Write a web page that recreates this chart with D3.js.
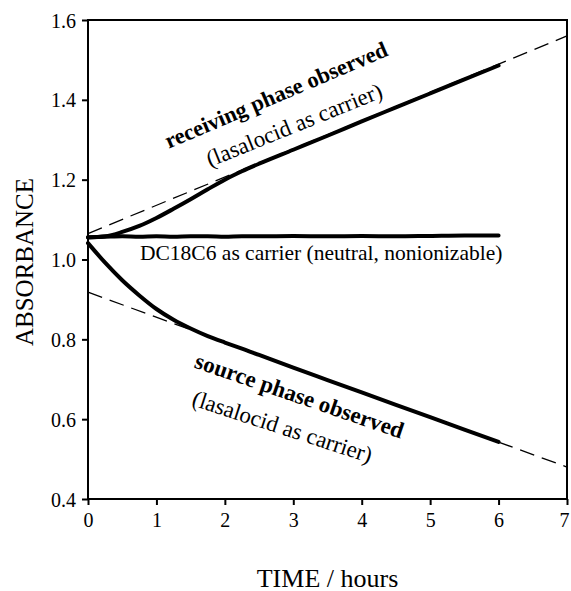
<!DOCTYPE html>
<html>
<head>
<meta charset="utf-8">
<script src="https://cdn.jsdelivr.net/npm/d3@7"></script>
<style>
  body { margin: 0; background: #fff; }
  text { font-family: 'Liberation Serif', 'Times New Roman', Times, serif; fill: #000; }
</style>
</head>
<body>
<svg width="571" height="591"></svg>
<script>
// observed curves (hours vs absorbance)
const hours = [0, 0.25, 0.5, 0.75, 1, 1.25, 1.5, 1.75, 2, 2.25, 2.5, 3, 3.5, 4, 4.5, 5, 5.5, 6];
const receivingObs = [1.055, 1.058, 1.069, 1.084, 1.104, 1.127, 1.151, 1.176, 1.2, 1.221, 1.24, 1.275, 1.31, 1.346, 1.381, 1.416, 1.451, 1.486];
const sourceObs = [1.041, 0.992, 0.948, 0.91, 0.876, 0.849, 0.827, 0.808, 0.792, 0.777, 0.761, 0.729, 0.698, 0.667, 0.636, 0.605, 0.574, 0.543];
const dc18c6Obs = [1.056, 1.057, 1.058, 1.057, 1.058, 1.057, 1.058, 1.058, 1.057, 1.058, 1.058, 1.059, 1.058, 1.059, 1.058, 1.059, 1.06, 1.06];

// dashed linear fits
const fitHours = [0, 7];
const receivingFit = [1.065, 1.56];
const sourceFit = [0.918, 0.48];

const xTicks = [0, 1, 2, 3, 4, 5, 6, 7];
const yTicks = [0.4, 0.6, 0.8, 1.0, 1.2, 1.4, 1.6];

const svg = d3.select('svg');
const width = +svg.attr('width');
const height = +svg.attr('height');
const margin = { left: 88, right: 4, top: 20, bottom: 92 };
const innerWidth = width - margin.left - margin.right;
const innerHeight = height - margin.top - margin.bottom;

const xScale = d3.scaleLinear().domain([0, 7]).range([0, innerWidth]);
const yScale = d3.scaleLinear().domain([0.4, 1.6]).range([innerHeight, 0]);

const g = svg.append('g').attr('transform', `translate(${margin.left}, ${margin.top})`);

// axes, ticks outward on left and bottom only
const xAxis = d3.axisBottom(xScale).tickValues(xTicks).tickFormat(d3.format('d')).tickSize(6).tickPadding(8);
const yAxis = d3.axisLeft(yScale).tickValues(yTicks).tickFormat(d3.format('.1f')).tickSize(6).tickPadding(6);

const xg = g.append('g').attr('transform', `translate(0, ${innerHeight})`).call(xAxis);
const yg = g.append('g').call(yAxis);
[xg, yg].forEach((a) => {
  a.attr('font-family', null);
  a.select('.domain').remove();
  a.selectAll('line').attr('stroke', '#000').attr('stroke-width', 2);
  a.selectAll('text').style('font-size', '20px');
});
yg.selectAll('text').attr('dy', '0.35em');
// last label sits on the window edge, pull it in a little
xg.selectAll('text').filter((d) => d === 7).attr('dx', -3);

// frame
g.append('rect')
  .attr('width', innerWidth)
  .attr('height', innerHeight)
  .attr('fill', 'none')
  .attr('stroke', '#000')
  .attr('stroke-width', 2);

// dashed fits
const fitLine = (vals) => d3.line()
  .x((d, i) => xScale(fitHours[i]))
  .y((d) => yScale(d))(vals);

[receivingFit, sourceFit].forEach((vals) => {
  g.append('path')
    .attr('d', fitLine(vals))
    .attr('fill', 'none')
    .attr('stroke', '#000')
    .attr('stroke-width', 1.3)
    .attr('stroke-dasharray', '15 8');
});

// observed curves
const obsLine = d3.line()
  .x((d, i) => xScale(hours[i]))
  .y((d) => yScale(d))
  .curve(d3.curveMonotoneX);

[receivingObs, dc18c6Obs, sourceObs].forEach((vals) => {
  g.append('path')
    .attr('d', obsLine(vals))
    .attr('fill', 'none')
    .attr('stroke', '#000')
    .attr('stroke-width', 4)
    .attr('stroke-linecap', 'round')
    .attr('stroke-linejoin', 'round');
});

// annotations
const note = (x, y, angle, txt, size, bold) => {
  svg.append('text')
    .attr('transform', `translate(${x}, ${y}) rotate(${angle})`)
    .attr('text-anchor', 'middle')
    .style('font-size', size + 'px')
    .style('font-weight', bold ? 'bold' : 'normal')
    .text(txt);
};
note(279, 102, -23, 'receiving phase observed', 22.5, true);
note(297, 132, -22, '(lasalocid as carrier)', 23, false);
note(297, 403, 19, 'source phase observed', 23, true);
note(280, 434, 18, '(lasalocid as carrier)', 23, false);

svg.append('text')
  .attr('x', 140)
  .attr('y', 260)
  .style('font-size', '21.5px')
  .text('DC18C6 as carrier (neutral, nonionizable)');

// axis titles
svg.append('text')
  .attr('transform', 'translate(33, 262) rotate(-90)')
  .attr('text-anchor', 'middle')
  .style('font-size', '25px')
  .text('ABSORBANCE');

svg.append('text')
  .attr('x', margin.left + innerWidth / 2)
  .attr('y', 587)
  .attr('text-anchor', 'middle')
  .style('font-size', '26px')
  .text('TIME / hours');
</script>
</body>
</html>
